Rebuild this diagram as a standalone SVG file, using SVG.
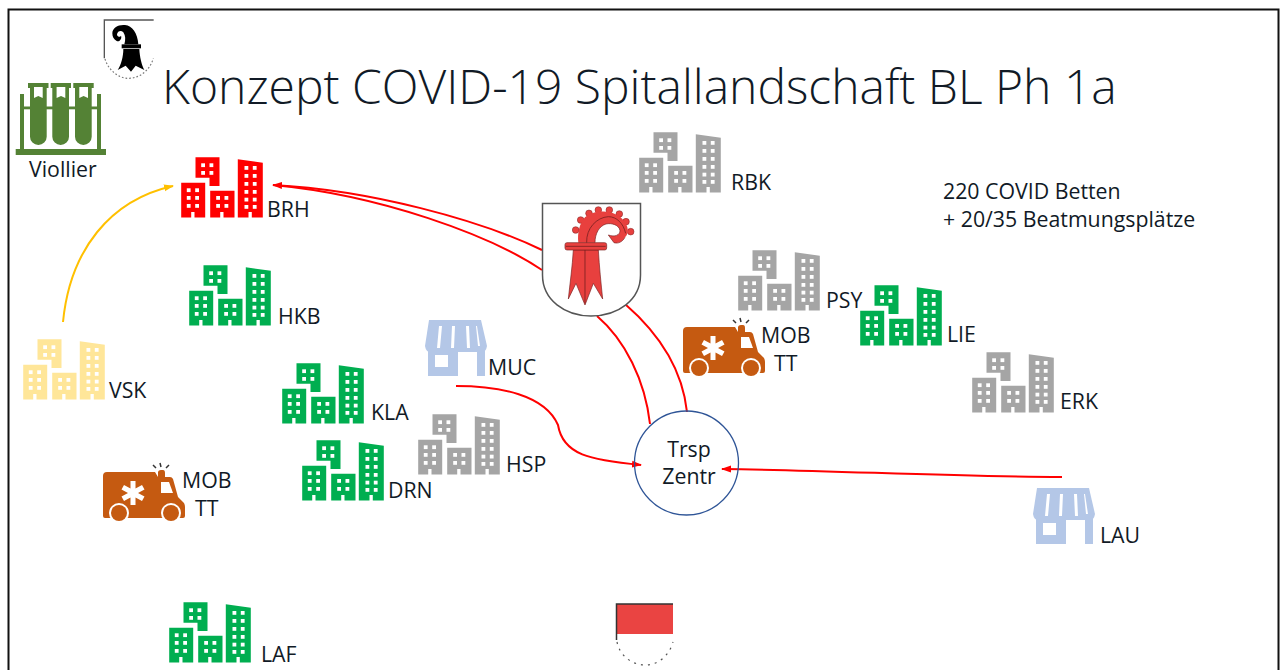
<svg xmlns="http://www.w3.org/2000/svg" width="1287" height="670" viewBox="0 0 1287 670">
<style>
text{font-family:"Open Sans","Noto Sans","Liberation Sans",sans-serif;font-size:21.3px;fill:#111a26;transform:translateY(1px)}
.title{font-size:48px;font-weight:300}
.w{fill:#fff}
.grn{fill:#00ae50}.gry{fill:#a5a5a5}.red{fill:#f00}.yel{fill:#ffe699}.lb{fill:#b4c7e7}
.conn{fill:none;stroke:#f00;stroke-width:2}
.amb{fill:#c55a11}
</style>
<defs>
<marker id="ar" markerWidth="10" markerHeight="8" refX="9" refY="4" orient="auto" markerUnits="userSpaceOnUse"><path d="M0,0.5 L10,4 L0,7.5 Z" fill="#f00"/></marker>
<marker id="ay" markerWidth="10" markerHeight="8" refX="9" refY="4" orient="auto" markerUnits="userSpaceOnUse"><path d="M0,0.5 L10,4 L0,7.5 Z" fill="#ffc000"/></marker>
<symbol id="bld" width="84" height="62" viewBox="0 0 84 62" overflow="visible">
<path d="M15,0.300H39V29H29V20.700H15Z"/>
<path d="M0.700,25.700H24.700V60.500H14V55H10.700V60.500H0.700Z"/>
<path d="M29.700,33.700H54V60.500H43V55H39.700V60.500H29.700Z"/>
<path d="M57.300,2.300L82.300,5.700V60.500H71.300V55H68V60.500H57.300Z"/>
<g class="w">
<rect x="20.700" y="6.300" width="3.800" height="3.800"/><rect x="29" y="6.300" width="3.800" height="3.800"/><rect x="20.700" y="14" width="3.800" height="3.800"/><rect x="29" y="14" width="3.800" height="3.800"/>
<rect x="6.300" y="31.300" width="3.800" height="3.800"/><rect x="14.700" y="31.300" width="3.800" height="3.800"/><rect x="6.300" y="39" width="3.800" height="3.800"/><rect x="14.700" y="39" width="3.800" height="3.800"/><rect x="6.300" y="47" width="3.800" height="3.800"/><rect x="14.700" y="47" width="3.800" height="3.800"/>
<rect x="35.700" y="39" width="3.800" height="3.800"/><rect x="44" y="39" width="3.800" height="3.800"/><rect x="35.700" y="47" width="3.800" height="3.800"/><rect x="44" y="47" width="3.800" height="3.800"/>
<rect x="64" y="9" width="3.800" height="3.800"/><rect x="72.300" y="9" width="3.800" height="3.800"/><rect x="64" y="17" width="3.800" height="3.800"/><rect x="72.300" y="17" width="3.800" height="3.800"/><rect x="64" y="25" width="3.800" height="3.800"/><rect x="72.300" y="25" width="3.800" height="3.800"/><rect x="64" y="33" width="3.800" height="3.800"/><rect x="72.300" y="33" width="3.800" height="3.800"/><rect x="64" y="40.700" width="3.800" height="3.800"/><rect x="72.300" y="40.700" width="3.800" height="3.800"/><rect x="64" y="48" width="3.800" height="3.800"/><rect x="72.300" y="48" width="3.800" height="3.800"/>
</g>
</symbol>
<g id="ambulance">
<path class="amb" d="M107,472H155L158,477V472.500Q158,470 161,470H163Q165,470 165,473V477H170Q172,477 173,479L178,497L184,503Q185,505 185,507V516Q185,518 183,518H105Q103,518 103,516V476Q103,472 107,472Z"/>
<path class="w" d="M161,482H169L173,493H161Z"/>
<path class="w" d="M130.500,481h5v7.500l6.500,-3.500l2.500,4.500l-6.500,3.500l6.500,3.500l-2.500,4.500l-6.500,-3.500v7.500h-5v-7.500l-6.500,3.500l-2.500,-4.500l6.500,-3.500l-6.500,-3.500l2.500,-4.500l6.500,3.500Z"/>
<circle class="w" cx="119" cy="513" r="10"/><circle class="amb" cx="119" cy="513" r="8"/>
<circle class="w" cx="171" cy="513" r="10"/><circle class="amb" cx="171" cy="513" r="8"/>
<path d="M153,465l3,3M160,463l1,4M169,465l-3,3" stroke="#333" stroke-width="1.500" fill="none"/>
</g>
<g id="store">
<path class="lb" d="M429,320H481L487,346Q486,352 482,352H430Q426,352 425,346Z"/>
<path class="w" d="M439,326h3l-2,22h-3ZM452,326h3l-1,22h-3ZM466,326h3l1,22h-3ZM476,326h1l3,20h-2Z"/>
<path class="lb" d="M428,350H485V376H428Z"/>
<path class="w" d="M435,355H448V367H435ZM458,352H477V376H458Z"/>
</g>
</defs>

<rect x="8.500" y="9.500" width="1270" height="680" fill="#fff" stroke="#111" stroke-width="2"/>

<g id="connectors">
<path class="conn" d="M542,250C480,220 370,190 273,185" marker-end="url(#ar)"/>
<path class="conn" d="M542,270C490,235 380,195 273,185"/>
<path class="conn" d="M597,316C625,340 645,380 650,424"/>
<path class="conn" d="M625,304C655,330 682,365 687,412"/>
<path class="conn" d="M456,386C500,386 545,395 558,425C563,455 590,460 641,465" marker-end="url(#ar)"/>
<path class="conn" d="M1062,477C950,477 830,470 722,469" marker-end="url(#ar)"/>
<path fill="none" stroke="#ffc000" stroke-width="2" d="M63,322C70,250 110,200 173,186" marker-end="url(#ay)"/>
</g>

<g id="title"><text class="title" x="162" y="103">Konzept COVID-19 Spitallandschaft BL Ph 1a</text></g>
<g id="note"><text x="943" y="198">220 COVID Betten</text><text x="943" y="226">+ 20/35 Beatmungsplätze</text></g>

<g id="shield-bs">
<g transform="translate(95,15) scale(.33333)">
<path d="M28,130V15H176" fill="none" stroke="#555" stroke-width="4"/>
<path d="M30,132C40,165 70,190 100,190C135,190 165,165 175,130" fill="none" stroke="#777" stroke-width="3.500" stroke-dasharray="5 6"/>
<path d="M52,55C52,38 70,28 90,30C112,32 128,55 130,88H88C92,75 92,62 85,52C78,45 68,48 66,58C66,66 74,68 78,62C82,72 72,82 65,78C56,74 52,65 52,55Z" fill="#000"/>
<path d="M80,88H138V100H80Z" fill="#000"/>
<path d="M85,102H133C134,125 140,150 148,165L122,152L108,170L92,152L68,165C78,150 85,125 85,102Z" fill="#000"/>
</g>
</g>

<g id="viollier">
<g fill="#548235">
<rect x="15.700" y="149" width="90.300" height="6"/>
<rect x="20" y="94" width="4" height="56"/><rect x="97" y="94" width="4" height="56"/>
<rect x="20" y="106.500" width="80" height="2.800"/>
<path d="M28,83H48.500V88H46.700V136.700A8.350,8.350 0 0 1 30,136.700V88H28Z"/>
<path d="M50.700,83H71V88H69V136.700A8.350,8.350 0 0 1 52.300,136.700V88H50.700Z"/>
<path d="M73.300,83H93.700V88H91.700V136.700A8.350,8.350 0 0 1 75,136.700V88H73.300Z"/>
</g>
<g class="w">
<path d="M34,87H42.700V98L38.300,96L34,98Z"/><path d="M56.600,87H65.300V98L61,96L56.600,98Z"/><path d="M79.300,87H88V98L83.600,96L79.300,98Z"/>
</g>
<text x="29" y="176">Viollier</text>
</g>

<g id="BRH" class="red"><use href="#bld" x="180.500" y="157"/><text x="267" y="216">BRH</text></g>
<g id="HKB" class="grn"><use href="#bld" x="188.500" y="265"/><text x="278" y="323">HKB</text></g>
<g id="VSK" class="yel"><use href="#bld" x="22.500" y="339"/><text x="109" y="397">VSK</text></g>
<g id="KLA" class="grn"><use href="#bld" x="281.500" y="363"/><text x="371" y="419">KLA</text></g>
<g id="DRN" class="grn"><use href="#bld" x="301.500" y="440"/><text x="388" y="497">DRN</text></g>
<g id="HSP" class="gry"><use href="#bld" x="417.500" y="414"/><text x="506" y="471">HSP</text></g>
<g id="RBK" class="gry"><use href="#bld" x="638.500" y="132"/><text x="731" y="189">RBK</text></g>
<g id="PSY" class="gry"><use href="#bld" x="737.500" y="250"/><text x="826" y="307">PSY</text></g>
<g id="LIE" class="grn"><use href="#bld" x="859.500" y="285"/><text x="947" y="341">LIE</text></g>
<g id="ERK" class="gry"><use href="#bld" x="971.500" y="352"/><text x="1060" y="408">ERK</text></g>
<g id="LAF" class="grn"><use href="#bld" x="168.500" y="602"/><text x="261" y="661">LAF</text></g>

<g id="MUC"><use href="#store"/><text x="488" y="374">MUC</text></g>
<g id="LAU"><use href="#store" transform="translate(608,168)"/><text x="1100" y="542">LAU</text></g>

<g id="MOB-1"><use href="#ambulance"/><text x="182" y="487">MOB</text><text x="195" y="515">TT</text></g>
<g id="MOB-2"><use href="#ambulance" transform="translate(580,-145)"/><text x="761" y="342">MOB</text><text x="774" y="370">TT</text></g>

<g id="shield-bl">
<path d="M542.500,203.500H640.500V275C640.500,300 618,316 591,316C565,316 542.500,300 542.500,275Z" fill="#fff" stroke="#555" stroke-width="1.500"/>
<g transform="translate(540,200) scale(.33333)">
<g fill="#e8403e" stroke="#7a2020" stroke-width="1.500"><circle cx="107" cy="90" r="10"/><circle cx="122" cy="60" r="10"/><circle cx="147" cy="40" r="10"/><circle cx="175" cy="30" r="10"/><circle cx="208" cy="30" r="10"/><circle cx="238" cy="42" r="10"/><circle cx="258" cy="65" r="10"/><circle cx="272" cy="95" r="10"/></g>
<path d="M115,128C112,100 118,70 135,52C160,30 210,28 240,50C262,68 272,95 255,112C248,125 235,132 222,128L205,105C225,112 240,105 240,92C238,75 215,68 198,72C178,78 165,100 165,128Z" fill="#e8403e"/>
<path d="M205,105C225,112 240,105 240,92C238,75 215,68 198,72C178,78 165,100 165,128M205,105L222,128C235,132 248,125 255,112" fill="none" stroke="#7a2020" stroke-width="2"/>
<path d="M100,150H175C178,200 183,250 188,297L160,250L135,315L108,250L85,297C90,250 97,200 100,150Z" fill="#e8403e" stroke="#7a2020" stroke-width="2"/>
<rect x="75" y="128" width="125" height="22" rx="6" fill="#e8403e" stroke="#7a2020" stroke-width="2"/>
<path d="M135,150V310M140,128C138,85 170,52 205,50C230,50 250,70 257,100M78,139H197" fill="none" stroke="#7a2020" stroke-width="2.500"/>
</g>
</g>

<g id="shield-so">
<path d="M617,604H673V634H617Z" fill="#ea4442"/>
<path d="M616.500,640V604H673" fill="none" stroke="#333" stroke-width="1.500"/>
<path d="M617,642C620,656 632,665 645,665C658,665 669,656 673,642" fill="none" stroke="#555" stroke-width="1.200" stroke-dasharray="2 5"/>
</g>

<g id="TrspZentr">
<circle cx="686.500" cy="463" r="52" fill="none" stroke="#2f5597" stroke-width="1.300"/>
<text x="689" y="456" text-anchor="middle">Trsp</text><text x="689" y="483" text-anchor="middle">Zentr</text>
</g>
</svg>
